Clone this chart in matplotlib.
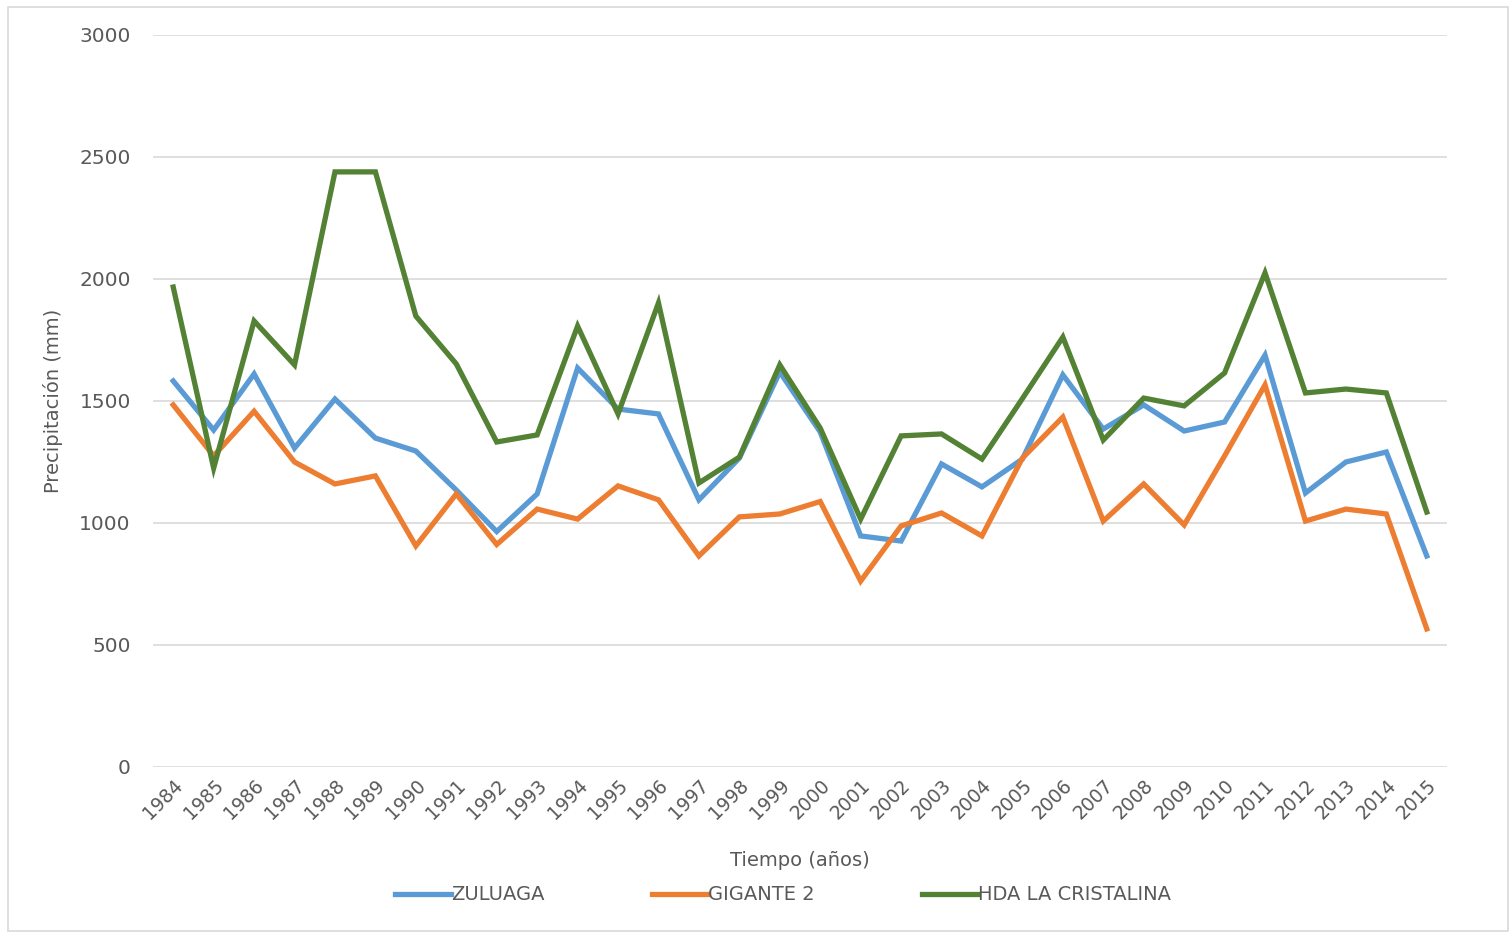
import matplotlib.pyplot as plt
import numpy as np
from matplotlib.patches import Rectangle

years = list(range(1984, 2016))

zuluaga = [1582, 1381, 1611, 1307, 1508, 1348, 1295, 1135, 965, 1119,
           1635, 1467, 1447, 1095, 1266, 1619, 1373, 947, 926, 1242,
           1148, 1262, 1607, 1385, 1484, 1377, 1414, 1688, 1123, 1250,
           1291, 865]
gigante2 = [1484, 1275, 1458, 1250, 1160, 1193, 906, 1119, 912, 1057,
            1016, 1152, 1095, 865, 1025, 1037, 1088, 762, 988, 1041,
            947, 1266, 1434, 1008, 1160, 992, 1275, 1566, 1008, 1057,
            1037, 566]
cristalina = [1967, 1225, 1828, 1648, 2439, 2439, 1848, 1652, 1332, 1361,
              1807, 1447, 1902, 1164, 1270, 1648, 1389, 1016, 1357, 1365,
              1262, 1510, 1762, 1340, 1512, 1480, 1615, 2025, 1533, 1549,
              1533, 1045]

series = [("ZULUAGA", zuluaga, "#5B9BD5"),
          ("GIGANTE 2", gigante2, "#ED7D31"),
          ("HDA LA CRISTALINA", cristalina, "#548235")]

TXT = "#595959"
plt.rcParams["font.family"] = ["DejaVu Sans"]

fig = plt.figure(figsize=(15.1, 9.34), dpi=100)
ax = fig.add_axes([153 / 1510, 1 - 767 / 934, (1447 - 153) / 1510, (767 - 35) / 934])

x = np.arange(len(years))
for name, vals, c in series:
    ax.plot(x, vals, color=c, lw=3.8, label=name, solid_joinstyle="miter")

ax.set_xlim(-0.5, len(years) - 0.5)
ax.set_ylim(0, 3000)
ax.set_yticks(range(0, 3001, 500))
ax.set_xticks(x)
ax.set_xticklabels([str(y) for y in years], rotation=45, ha="right",
                   rotation_mode="anchor", fontsize=13.5, color=TXT)
ax.tick_params(axis="y", labelsize=14.5, labelcolor=TXT, length=0, pad=16)
ax.tick_params(axis="x", length=0, pad=6)
ax.grid(axis="y", color="#D9D9D9", lw=1.2)
ax.set_axisbelow(True)
for s in ax.spines.values():
    s.set_visible(False)

ax.set_ylabel("Precipitación (mm)", fontsize=14, color=TXT, labelpad=12)
fig.text(800 / 1510, 1 - 860 / 934, "Tiempo (años)", fontsize=14, color=TXT,
         ha="center", va="center")

fig.legend(loc="center", bbox_to_anchor=(783 / 1510, 1 - 895 / 934), ncol=3,
           frameon=False, fontsize=14, labelcolor=TXT, handlelength=2.9,
           handletextpad=0.0, columnspacing=5.5)

fig.patches.append(Rectangle((8 / 1510, 0.003), 1 - 10 / 1510, 1 - 10 / 934,
                             transform=fig.transFigure, fill=False,
                             edgecolor="#D9D9D9", lw=1.2))

fig.savefig("out.png", dpi=100)
